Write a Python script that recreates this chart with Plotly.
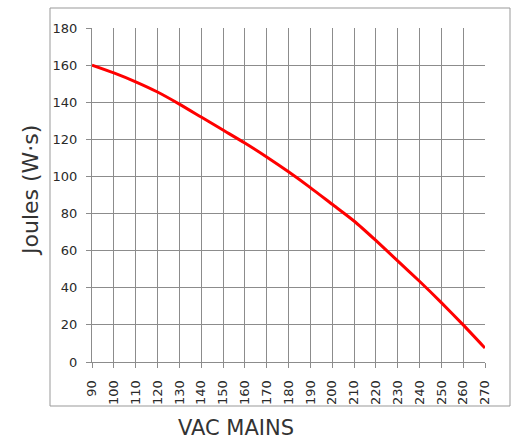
import plotly.graph_objects as go

# Energy rating versus AC mains voltage
vac = [90, 100, 110, 120, 130, 140, 150, 160, 170, 180, 190, 200, 210, 220, 230, 240, 250, 260, 270]
joules = [160, 155.8, 151, 145.5, 139, 132, 125, 118, 110.5, 102.5, 94, 85, 76, 65.5, 54.5, 43.5, 32, 20, 7.5]

x_ticks = list(range(90, 271, 10))
y_ticks = list(range(0, 181, 20))

W, H = 513, 439
L, R, T, B = 92, 28, 28, 77
pw, ph = W - L - R, H - T - B

def px(xp):
    return (xp - L) / pw

def py(yp):
    return (H - B - yp) / ph

grid = "#8c8c8c"
font = "DejaVu Sans"
ink = "#2a2a2a"

fig = go.Figure()
fig.add_trace(go.Scatter(
    x=vac, y=joules, mode="lines",
    line=dict(color="#ff0000", width=3, shape="spline", smoothing=0.6),
    hoverinfo="skip", showlegend=False,
))

fig.update_layout(
    width=W, height=H,
    margin=dict(l=L, r=R, t=T, b=B),
    paper_bgcolor="white", plot_bgcolor="white",
    font=dict(family=font, color=ink),
    xaxis=dict(
        range=[90, 270], tickvals=x_ticks, ticktext=[str(v) for v in x_ticks],
        tickangle=-90, tickfont=dict(size=13, color=ink),
        showgrid=True, gridcolor=grid, gridwidth=1,
        showline=True, linecolor=grid, linewidth=1,
        ticks="outside", ticklen=5, tickcolor=grid,
        ticklabelstandoff=7, zeroline=False, fixedrange=True,
    ),
    yaxis=dict(
        range=[0, 180], tickvals=y_ticks,
        tickfont=dict(size=13, color=ink),
        showgrid=True, gridcolor=grid, gridwidth=1,
        showline=True, linecolor=grid, linewidth=1,
        ticks="outside", ticklen=5, tickcolor=grid,
        ticklabelstandoff=6, zeroline=False, fixedrange=True,
    ),
    shapes=[dict(
        type="rect", xref="paper", yref="paper",
        x0=px(50), x1=px(510), y0=py(406), y1=py(8),
        line=dict(color="#999999", width=1), fillcolor="rgba(0,0,0,0)",
        layer="below",
    )],
    annotations=[
        dict(text="VAC MAINS", xref="paper", yref="paper",
             x=px(236), y=py(428), xanchor="center", yanchor="middle",
             showarrow=False, font=dict(size=21, family=font, color="#333333")),
        dict(text="Joules (W·s)", xref="paper", yref="paper",
             x=px(30), y=py(191), xanchor="center", yanchor="middle",
             textangle=-90, showarrow=False,
             font=dict(size=22, family=font, color="#333333")),
    ],
)

fig.write_html("out.html")
